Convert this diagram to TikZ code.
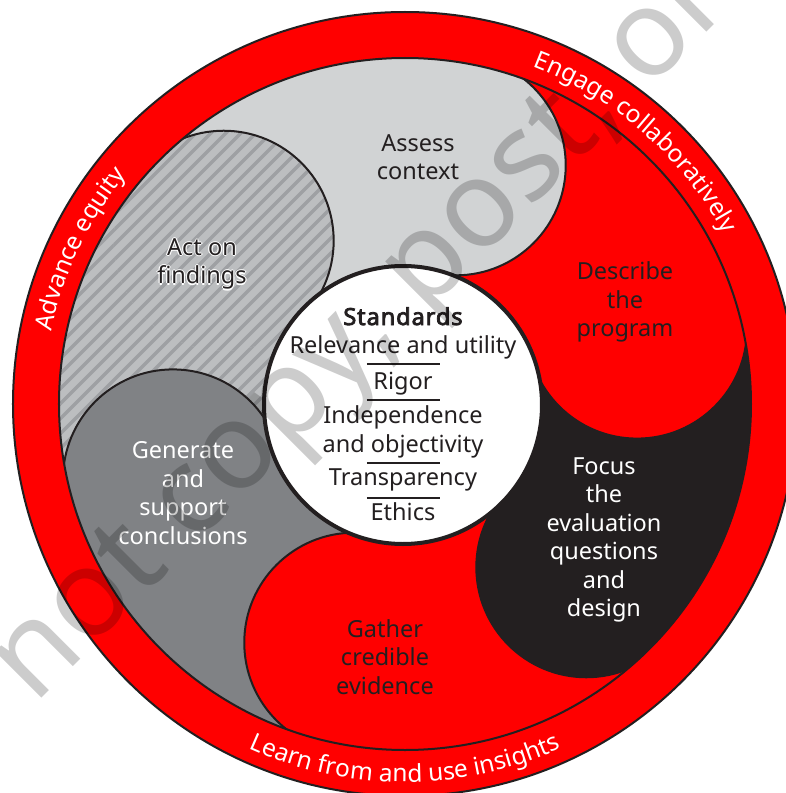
\documentclass[tikz,border=0pt]{standalone}
\usepackage{fontspec}
\setmainfont{Noto Sans}[AutoFakeBold=2.2]
\IfFontExistsTF{Noto Sans Bold}
  {\newfontfamily\headfont{Noto Sans Bold}}
  {\newfontfamily\headfont{Noto Sans}[FakeBold=3.2, LetterSpace=4]}
\usetikzlibrary{decorations.text}

\definecolor{evred}{RGB}{255,0,0}
\definecolor{inkdark}{RGB}{35,31,32}
\definecolor{palegray}{RGB}{209,211,212}
\definecolor{hatchbase}{RGB}{188,190,192}
\definecolor{hatchline}{RGB}{158,160,163}
\definecolor{midgray}{RGB}{128,130,133}

\newcommand\ringfont{\fontsize{24.5}{24.5}\selectfont}
\newcommand\hatchstripes{%
  \foreach \c in {-735,-720,...,15}{%
    \draw[hatchline, line width=3.3pt] (\c-140,-140) -- ++(480,480);}}

\begin{document}
\begin{tikzpicture}[x=1pt,y=1pt,
  outline/.style={draw=inkdark, line width=2pt},
  steplabel/.style={align=center, inner sep=0pt,
    font=\fontsize{23.5}{28.5}\selectfont},
  stdline/.style={anchor=base, inner sep=0pt,
    font=\fontsize{23.5}{28.5}\selectfont, text=inkdark},
  stdrule/.style={draw=inkdark, line width=1.2pt},
  ringtext/.style={decorate, decoration={text along path,
    text align=center, text color=white, text={|\ringfont|#1}}}
]
\useasboundingbox (-405,-389) rectangle (381,404);

% outer red band
\fill[evred] (0,0) circle[radius=392];
\draw[outline] (0,0) circle[radius=392];

% the six steps: sectors, then lobes, then lobe edges
\begin{scope}
  \clip (0,0) circle[radius=346];
  \fill[palegray] (0,0) -- (78:500) arc[start angle=78, end angle=138, radius=500] -- cycle;
  \begin{scope}
    \clip (0,0) -- (138:500) arc[start angle=138, end angle=198, radius=500] -- cycle;
    \fill[hatchbase] (-400,-400) rectangle (400,400);
    \hatchstripes
  \end{scope}
  \fill[evred] (0,0) -- (18:500) arc[start angle=18, end angle=78, radius=500] -- cycle;
  \fill[inkdark] (0,0) -- (-42:500) arc[start angle=-42, end angle=18, radius=500] -- cycle;
  \fill[evred] (0,0) -- (-102:500) arc[start angle=-102, end angle=-42, radius=500] -- cycle;
  \fill[midgray] (0,0) -- (-162:500) arc[start angle=-162, end angle=-102, radius=500] -- cycle;

  \fill[palegray] (78:244) circle[radius=110];
  \begin{scope}
    \clip (138:244) circle[radius=110];
    \fill[hatchbase] (-400,-400) rectangle (400,400);
    \hatchstripes
  \end{scope}
  \fill[evred] (18:244) circle[radius=110];
  \fill[inkdark] (-42:244) circle[radius=110];
  \fill[evred] (-102:244) circle[radius=110];
  \fill[midgray] (-162:244) circle[radius=110];

  \foreach \a in {138,78,18,-42,-102,-162}{
    \begin{scope}
      \clip (0,0) -- (\a:600) -- (\a-60:600) -- cycle;
      \draw[outline] (\a:244) circle[radius=110];
    \end{scope}
  }
\end{scope}
\draw[outline] (0,0) circle[radius=346];

% standards hub
\draw[draw=inkdark, line width=4pt, fill=white] (-2,-1) circle[radius=139];
\node (stdhead) [stdline] at (-2,79) {\headfont Standards};
\node (stdrel) [stdline] at (-2,51) {Relevance and utility};
\node (stdrig) [stdline] at (-2,15) {Rigor};
\node (stdind) [stdline] at (-2,-19) {Independence};
\node (stdobj) [stdline] at (-2,-48) {and objectivity};
\node (stdtra) [stdline] at (-2,-81) {Transparency};
\node (stdeth) [stdline] at (-2,-116) {Ethics};
\draw[stdrule] (-38,40) -- (35,40);
\draw[stdrule] (-38,4) -- (35,4);
\draw[stdrule] (-38,-59) -- (35,-59);
\draw[stdrule] (-38,-94) -- (35,-94);

% step labels
\foreach \dx/\dy in {1.2/0,-1.2/0,0/1.2,0/-1.2}
  \node [steplabel, text=white, xshift=\dx pt, yshift=\dy pt] at (-203,140) {Act on\\findings};
\node (assess) [steplabel, text=inkdark] at (13,247) {Assess\\context};
\node (act) [steplabel, text=inkdark] at (-203,140) {Act on\\findings};
\node (describe) [steplabel, text=inkdark] at (220,102) {Describe\\the\\program};
\node (focus) [steplabel, text=white] at (199,-136) {Focus\\the\\evaluation\\questions\\and\\design};
\node (gather) [steplabel, text=inkdark] at (-20,-253) {Gather\\credible\\evidence};
\node (generate) [steplabel, text=white] at (-222,-89) {Generate\\and\\support\\conclusions};

% band captions
\path[ringtext={Engage collaboratively}] (88.7:361) arc[start angle=88.7, end angle=8.7, radius=361];
\path[ringtext={Advance equity}] (194.5:361) arc[start angle=194.5, end angle=114.5, radius=361];
\path[ringtext={Learn from and use insights}] (-130:378) arc[start angle=-130, end angle=-50, radius=378];

% watermark
\begin{scope}
  \clip (-405,-389) rectangle (381,404);
  \node (wm) [rotate=45, anchor=base west, inner sep=0pt,
    font=\fontsize{122}{122}\selectfont, text=black, text opacity=0.2]
    at (-370.6,-301.3) {not copy, post, or};
\end{scope}
\end{tikzpicture}
\end{document}
